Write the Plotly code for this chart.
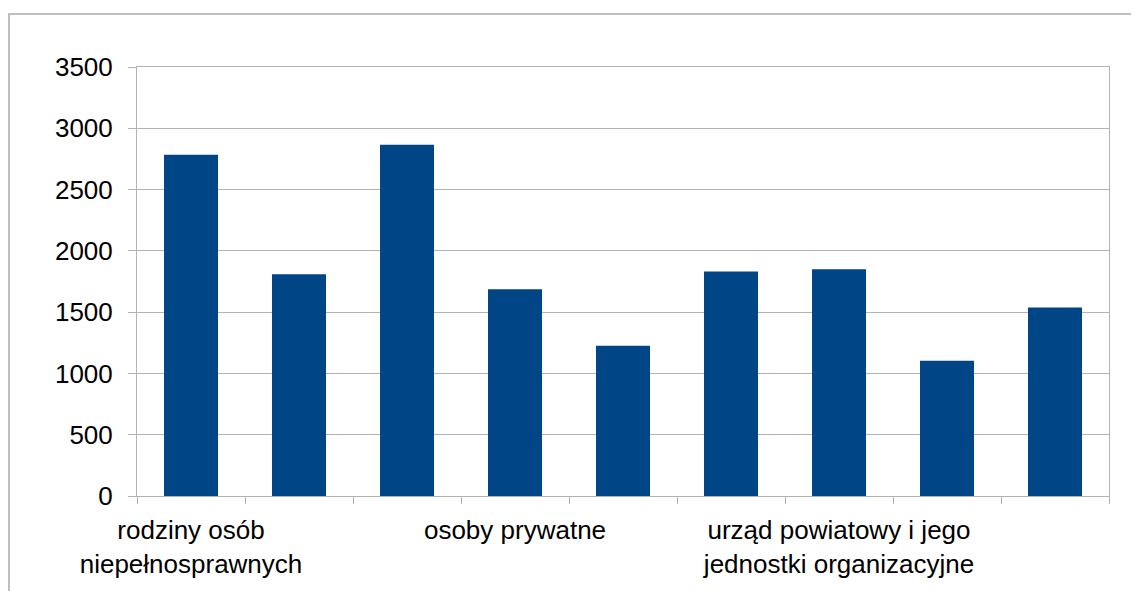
import plotly.graph_objects as go

# Data
category_index = [0, 1, 2, 3, 4, 5, 6, 7, 8]
values = [2784, 1809, 2866, 1687, 1225, 1831, 1850, 1103, 1538]
tick_positions = [0, 3, 6]
tick_labels = ["rodziny osób<br>niepełnosprawnych", "osoby prywatne",
               "urząd powiatowy i jego<br>jednostki organizacyjne"]
boundary_ticks = [i - 0.5 for i in range(10)]
y_ticks = [0, 500, 1000, 1500, 2000, 2500, 3000, 3500]

W, H = 1139, 591
ml, mr, mt, mb = 129, 38, 58.5, 103
pw = W - ml - mr
ph = H - mt - mb

fig = go.Figure()
fig.add_trace(go.Bar(
    x=category_index, y=values, width=0.5,
    marker=dict(color="#004586", line=dict(width=0)),
    showlegend=False,
))

grid = "#b3b3b3"
font = dict(family="Liberation Sans, Arial, sans-serif", size=26, color="#000000")

fig.update_layout(
    width=W, height=H,
    margin=dict(l=ml, r=mr, t=mt, b=mb, pad=0),
    paper_bgcolor="white", plot_bgcolor="white",
    font=font,
    bargap=0.5,
    xaxis=dict(
        range=[-0.5, 8.5], tickvals=tick_positions, ticktext=tick_labels,
        ticks="", showgrid=False, zeroline=False,
        showline=True, linecolor=grid, linewidth=1, mirror=True,
        tickfont=font, ticklabelstandoff=11,
        minor=dict(tickvals=boundary_ticks, ticks="outside", ticklen=7,
                   tickcolor=grid, tickwidth=1, showgrid=False),
    ),
    yaxis=dict(
        range=[0, 3500], tickvals=y_ticks, ticks="outside", ticklen=8,
        tickcolor=grid, tickwidth=1,
        showgrid=True, gridcolor=grid, gridwidth=1, zeroline=False,
        showline=True, linecolor=grid, linewidth=1, mirror=True,
        tickfont=font, ticklabelstandoff=10,
    ),
    shapes=[dict(
        type="rect", xref="paper", yref="paper",
        x0=(1 - ml) / pw, x1=(W + 20 - ml) / pw,
        y0=(H - mb - (H + 20)) / ph, y1=(H - mb - 5.5) / ph,
        line=dict(color="#aaaaaa", width=1.5), fillcolor="rgba(0,0,0,0)",
        layer="below",
    )],
)

fig.write_html("out.html")
